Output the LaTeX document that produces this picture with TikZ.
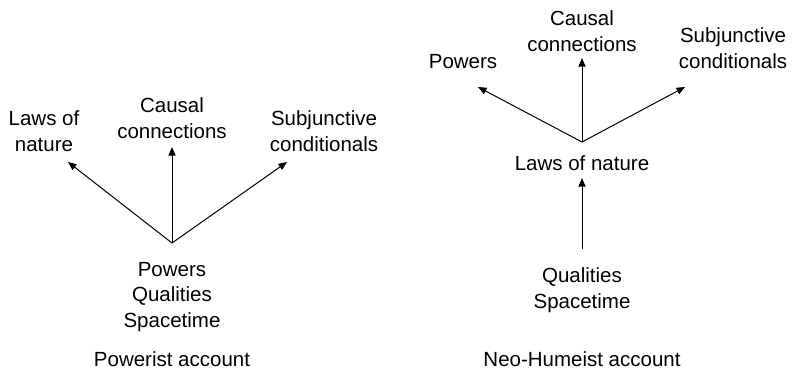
\documentclass[tikz,border=0pt]{standalone}
\usepackage{fontspec}
\setmainfont{Liberation Sans}
\usetikzlibrary{arrows.meta}
\tikzset{
  lbl/.style={anchor=base, align=center, inner sep=0pt,
    font=\fontsize{20.5}{25.5}\selectfont},
  arr/.style={-{Triangle[length=8.5pt,width=7pt]}, line width=1pt, black}
}
\begin{document}
\begin{tikzpicture}[x=1pt,y=-1pt]
\useasboundingbox (0,0) rectangle (792,373);
\fill[white] (0,0) rectangle (792,373);
% ---- Powerist account ----
\coordinate (hubL) at (172,243);
\coordinate (tLl) at (68,162);
\coordinate (tLc) at (172,147);
\coordinate (tLr) at (287,162);
\node[lbl] (lawsL) at (44,151) {Laws of\\nature};
\node[lbl] (causalL) at (172,138) {Causal\\connections};
\node[lbl] (subjL) at (324,151) {Subjunctive\\conditionals};
\node[lbl] (baseL) at (172,327) {Powers\\Qualities\\Spacetime};
\node[lbl] (titleL) at (172,366) {Powerist account};
\draw[arr] (hubL) -- (tLl);
\draw[arr] (hubL) -- (tLc);
\draw[arr] (hubL) -- (tLr);
% ---- Neo-Humeist account ----
\coordinate (hubR) at (582,142);
\coordinate (tRl) at (478,87);
\coordinate (tRc) at (582,58);
\coordinate (tRr) at (685,87);
\coordinate (upS) at (582,249);
\coordinate (upE) at (582,178);
\node[lbl] (powR) at (463,68) {Powers};
\node[lbl] (causalR) at (582,51) {Causal\\connections};
\node[lbl] (subjR) at (733,68) {Subjunctive\\conditionals};
\node[lbl] (lawsR) at (582,170) {Laws of nature};
\node[lbl] (baseR) at (582,308) {Qualities\\Spacetime};
\node[lbl] (titleR) at (582,366) {Neo-Humeist account};
\draw[arr] (hubR) -- (tRl);
\draw[arr] (hubR) -- (tRc);
\draw[arr] (hubR) -- (tRr);
\draw[arr] (upS) -- (upE);
\end{tikzpicture}
\end{document}
